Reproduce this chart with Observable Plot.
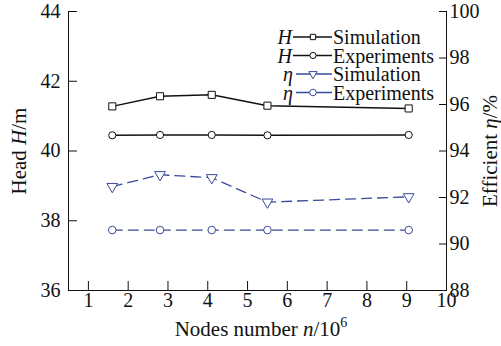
<!DOCTYPE html>
<html><head><meta charset="utf-8">
<script src="https://cdn.jsdelivr.net/npm/d3@7"></script>
<script src="https://cdn.jsdelivr.net/npm/@observablehq/plot@0.6"></script>
<style>
body{margin:0;background:#fff;}
#wrap{position:relative;width:501px;height:346px;}
#wrap svg, #wrap svg g, #wrap svg text, #wrap svg tspan{font-family:"Liberation Serif","Times New Roman",serif !important;}
</style></head><body><div id="wrap"></div>
<script>
const nodes = [1.6, 2.8, 4.1, 5.5, 9.05];
const headSim = [41.28, 41.57, 41.61, 41.3, 41.22];
const headExp = [40.45, 40.46, 40.46, 40.45, 40.46];
const effSim = [92.47, 92.98, 92.85, 91.8, 92.03];
const effExp = [90.6, 90.6, 90.6, 90.6, 90.6];
const xTicks = [1, 2, 3, 4, 5, 6, 7, 8, 9, 10];
const headTicks = [36, 38, 40, 42, 44];
const effTicks = [88, 90, 92, 94, 96, 98, 100];
const legendRows = [
  {sym: "H", name: "Simulation", series: "hs"},
  {sym: "H", name: "Experiments", series: "he"},
  {sym: "η", name: "Simulation", series: "es"},
  {sym: "η", name: "Experiments", series: "ee"}
];

const black = "#111";
const blue = "#3a4a9c";
const FONT = "Liberation Serif";
const toH = e => 36 + (e - 88) * 8 / 12;
const fromH = h => 88 + (h - 36) * 12 / 8;

const rows = nodes.map((n, i) => ({n, hs: headSim[i], he: headExp[i], es: toH(effSim[i]), ee: toH(effExp[i])}));

const plot = Plot.plot({
  width: 501, height: 346,
  marginLeft: 68, marginRight: 55, marginTop: 11, marginBottom: 56,
  style: {"font-family": FONT, "font-size": "20px", color: "#111", background: "white"},
  x: {domain: [0.5, 10]},
  y: {domain: [36, 44]},
  marks: [
    Plot.frame({anchor: "left", stroke: black}),
    Plot.frame({anchor: "bottom", stroke: black}),
    Plot.frame({anchor: "right", stroke: black}),
    Plot.axisX(xTicks, {anchor: "bottom", tickSize: -9, tickPadding: 11, label: null, fontSize: 20, fontFamily: FONT}),
    Plot.axisY(headTicks, {anchor: "left", tickSize: -9, tickPadding: 17, label: null, fontSize: 20, fontFamily: FONT}),
    Plot.axisY(effTicks.map(toH), {anchor: "right", tickSize: -8, tickPadding: 11, label: null, fontSize: 20, fontFamily: FONT,
      tickFormat: d => String(Math.round(fromH(d)))}),
    Plot.line(rows, {x: "n", y: "hs", stroke: black, strokeWidth: 1.5}),
    Plot.line(rows, {x: "n", y: "he", stroke: black, strokeWidth: 1.5}),
    Plot.line(rows, {x: "n", y: "es", stroke: blue, strokeWidth: 1.3, strokeDasharray: "10,6"}),
    Plot.line(rows, {x: "n", y: "ee", stroke: blue, strokeWidth: 1.3, strokeDasharray: "10,6"}),
    Plot.dot(rows, {x: "n", y: "hs", symbol: "square", r: 4, fill: "white", stroke: black, strokeWidth: 1}),
    Plot.dot(rows, {x: "n", y: "he", symbol: "circle", r: 3.6, fill: "white", stroke: black, strokeWidth: 1}),
    Plot.dot(rows, {x: "n", y: "es", symbol: "triangle", rotate: 180, r: 4, fill: "white", stroke: blue, strokeWidth: 1}),
    Plot.dot(rows, {x: "n", y: "ee", symbol: "circle", r: 3.8, fill: "white", stroke: blue, strokeWidth: 1})
  ]
});
document.getElementById("wrap").appendChild(plot);

const svg = d3.select(plot);
// axis titles
const lt = svg.append("text").attr("transform", "translate(19,151) rotate(-90)")
  .attr("text-anchor", "middle").attr("dy", "0.35em").attr("font-family", FONT)
  .style("font-size", "21px").attr("fill", "#111");
lt.append("tspan").text("Head ");
lt.append("tspan").attr("font-style", "italic").text("H");
lt.append("tspan").text("/m");

const rt = svg.append("text").attr("transform", "translate(490,151) rotate(-90)")
  .attr("text-anchor", "middle").attr("dy", "0.35em").attr("font-family", FONT)
  .style("font-size", "21px").attr("fill", "#111");
rt.append("tspan").text("Efficient ");
rt.append("tspan").attr("font-style", "italic").text("η");
rt.append("tspan").text("/%");

const bt = svg.append("text").attr("x", 261).attr("y", 336)
  .attr("text-anchor", "middle").attr("font-family", FONT)
  .style("font-size", "21px").attr("fill", "#111");
bt.append("tspan").text("Nodes number ");
bt.append("tspan").attr("font-style", "italic").text("n");
bt.append("tspan").text("/10");
bt.append("tspan").attr("dy", -9).style("font-size", "14px").text("6");

// legend
const styles = {
  hs: {c: black, sym: d3.symbolSquare, size: 28, rot: 0},
  he: {c: black, sym: d3.symbolCircle, size: 30, rot: 0},
  es: {c: blue, sym: d3.symbolTriangle, size: 30, rot: 180},
  ee: {c: blue, sym: d3.symbolCircle, size: 34, rot: 0}
};
const lg = svg.append("g").attr("font-family", FONT);
legendRows.forEach((r, i) => {
  const y = 37 + i * 18.5;
  const s = styles[r.series];
  lg.append("text").attr("x", r.sym === "H" ? 292 : 293).attr("y", y).attr("dy", "0.35em")
    .attr("text-anchor", "end").attr("font-style", "italic")
    .style("font-size", "20px").attr("fill", "#111").text(r.sym);
  lg.append("line").attr("x1", r.sym === "H" ? 293 : 296).attr("x2", 332).attr("y1", y).attr("y2", y)
    .attr("stroke", s.c).attr("stroke-width", 1.3);
  lg.append("path").attr("d", d3.symbol(s.sym, s.size)())
    .attr("transform", `translate(313,${y}) rotate(${s.rot})`)
    .attr("fill", "white").attr("stroke", s.c).attr("stroke-width", 1);
  lg.append("text").attr("x", 333).attr("y", y).attr("dy", "0.35em")
    .attr("text-anchor", "start")
    .style("font-size", "20px").attr("fill", "#111").text(r.name);
});
</script></body></html>
